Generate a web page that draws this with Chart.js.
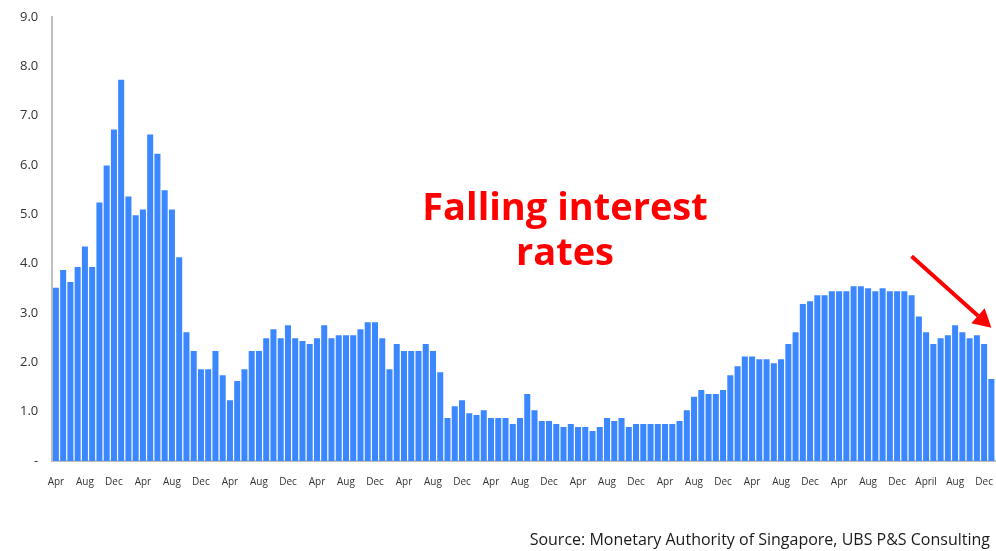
<!DOCTYPE html>
<html>
<head>
<meta charset="utf-8">
<script src="https://cdn.jsdelivr.net/npm/chart.js@4/dist/chart.umd.min.js"></script>
<style>
  html, body { margin: 0; padding: 0; background: #fff; overflow: hidden; }
  #wrap { position: relative; width: 996px; height: 551px; }
  #rateChart { display: block; }
  #note {
    position: absolute; left: 365px; top: 183px; width: 400px;
    text-align: center; color: #ff0000; font: bold 38px "Open Sans", sans-serif;
    line-height: 45px;
  }
  #source {
    position: absolute; right: 6px; top: 528px;
    color: #1a1a1a; font: 16px "Open Sans", sans-serif;
  }
</style>
</head>
<body>
<div id="wrap">
  <canvas id="rateChart" width="996" height="551"></canvas>
  <div id="note">Falling interest<br>rates</div>
  <div id="source">Source: Monetary Authority of Singapore, UBS P&amp;S Consulting</div>
</div>
<script>
// monthly rate, starting in April of the first year
const rates = [
    3.51, 3.87, 3.63, 3.93, 4.35, 3.93, 5.24, 5.99, 6.72, 7.73, 5.36, 4.98,
    5.10, 6.62, 6.23, 5.49, 5.10, 4.13, 2.61, 2.23, 1.86, 1.86, 2.23, 1.74,
    1.23, 1.62, 1.86, 2.23, 2.23, 2.49, 2.67, 2.49, 2.75, 2.49, 2.43, 2.37,
    2.49, 2.75, 2.49, 2.55, 2.55, 2.55, 2.67, 2.81, 2.81, 2.49, 1.86, 2.37,
    2.23, 2.23, 2.23, 2.37, 2.23, 1.80, 0.87, 1.11, 1.23, 0.97, 0.93, 1.03,
    0.87, 0.87, 0.87, 0.75, 0.87, 1.36, 1.03, 0.81, 0.81, 0.75, 0.69, 0.75,
    0.69, 0.69, 0.61, 0.69, 0.87, 0.81, 0.87, 0.69, 0.75, 0.75, 0.75, 0.75,
    0.75, 0.75, 0.81, 1.03, 1.30, 1.44, 1.36, 1.36, 1.44, 1.74, 1.92, 2.12,
    2.12, 2.06, 2.06, 1.98, 2.06, 2.37, 2.61, 3.18, 3.24, 3.36, 3.36, 3.44,
    3.44, 3.44, 3.54, 3.54, 3.50, 3.44, 3.50, 3.44, 3.44, 3.44, 3.36, 2.93,
    2.61, 2.37, 2.49, 2.55, 2.75, 2.61, 2.49, 2.55, 2.37, 1.66
]
// labels shown under every 4th bar
const tickLabels = ['Apr', 'Aug', 'Dec', 'Apr', 'Aug', 'Dec', 'Apr', 'Aug', 'Dec', 'Apr', 'Aug',
    'Dec', 'Apr', 'Aug', 'Dec', 'Apr', 'Aug', 'Dec', 'Apr', 'Aug', 'Dec', 'Apr', 'Aug', 'Dec',
    'Apr', 'Aug', 'Dec', 'Apr', 'Aug', 'Dec', 'April', 'Aug', 'Dec']
const monthNames = ['Apr', 'May', 'Jun', 'Jul', 'Aug', 'Sep', 'Oct', 'Nov', 'Dec', 'Jan', 'Feb', 'Mar']
const months = rates.map((v, i) => i % 4 == 0 ? tickLabels[i / 4] : monthNames[i % 12])
const yTicks = [0, 1, 2, 3, 4, 5, 6, 7, 8, 9]

// arrow: from above the bar after Nov down to the last bar
const arrowFrom = { index: 118, value: 4.15 }
const arrowTo = { index: 129, value: 2.7 }

const arrowPlugin = {
    id: 'arrow',
    afterDraw(chart) {
        const x = chart.scales.x, y = chart.scales.y, ctx = chart.ctx
        const x1 = x.getPixelForValue(arrowFrom.index), y1 = y.getPixelForValue(arrowFrom.value)
        const x2 = x.getPixelForValue(arrowTo.index), y2 = y.getPixelForValue(arrowTo.value)
        const len = Math.hypot(x2 - x1, y2 - y1)
        const dx = (x2 - x1) / len, dy = (y2 - y1) / len
        const head = 18, half = 10
        ctx.save()
        ctx.strokeStyle = '#ff0000'
        ctx.fillStyle = '#ff0000'
        ctx.lineWidth = 4
        ctx.beginPath()
        ctx.moveTo(x1, y1)
        ctx.lineTo(x2 - dx * head, y2 - dy * head)
        ctx.stroke()
        ctx.beginPath()
        ctx.moveTo(x2, y2)
        ctx.lineTo(x2 - dx * head - dy * half, y2 - dy * head + dx * half)
        ctx.lineTo(x2 - dx * head + dy * half, y2 - dy * head - dx * half)
        ctx.closePath()
        ctx.fill()
        ctx.restore()
    }
}

new Chart(document.getElementById('rateChart'), {
    type: 'bar',
    data: {
        labels: months,
        datasets: [{
            data: rates,
            backgroundColor: '#3a87ff',
            barPercentage: 0.83,
            categoryPercentage: 1
        }]
    },
    options: {
        responsive: false,
        animation: false,
        events: [],
        // extra left/bottom room for the hidden tick marks' gap
        layout: { padding: { left: 18, right: 1, top: 17, bottom: 61 } },
        plugins: {
            legend: { display: false },
            tooltip: { enabled: false }
        },
        scales: {
            x: {
                grid: { display: false, drawTicks: true, tickLength: 13 },
                border: { color: '#bfbfbf', width: 2 },
                ticks: {
                    autoSkip: false,
                    maxRotation: 0,
                    padding: 2,
                    color: '#333',
                    font: { family: 'Open Sans', size: 10 },
                    callback: function (value, index) {
                        return index % 4 == 0 ? this.getLabelForValue(value) : ''
                    }
                }
            },
            y: {
                min: 0,
                max: 9,
                afterBuildTicks: axis => { axis.ticks = yTicks.map(v => ({ value: v })) },
                grid: { display: false, drawTicks: true, tickLength: 12 },
                border: { color: '#bfbfbf', width: 2 },
                ticks: {
                    padding: 2,
                    color: '#333',
                    font: { family: 'Open Sans', size: 13 },
                    callback: v => v == 0 ? '-' : v.toFixed(1)
                }
            }
        }
    },
    plugins: [arrowPlugin]
})
</script>
</body>
</html>
